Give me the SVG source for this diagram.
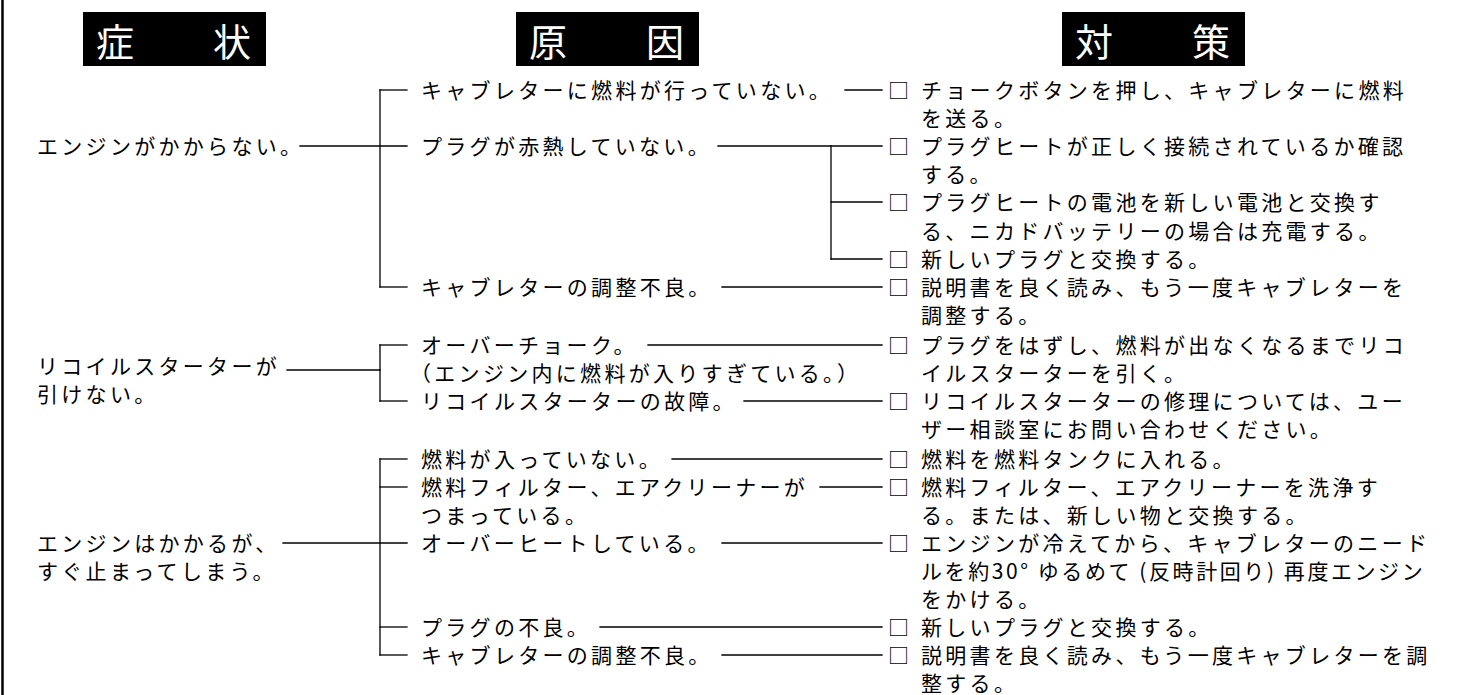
<svg xmlns="http://www.w3.org/2000/svg" width="1481" height="695" viewBox="0 0 1481 695">
<style>
.t{font-family:"Noto Sans CJK JP","Noto Sans",sans-serif;font-size:21px;letter-spacing:3.3px;fill:#000}
.h{font-family:"Noto Sans CJK JP","Noto Sans",sans-serif;font-size:38px;fill:#fff}
.hb{fill:#000}
.c line{stroke:#000;stroke-width:1.3;stroke-linecap:square;fill:none}
</style>
<rect width="1481" height="695" fill="#fff"/>
<line x1="2.5" y1="0" x2="2.5" y2="695" stroke="#000" stroke-width="2.5"/>

<g id="header-symptom"><rect class="hb" x="83" y="12" width="183" height="54"/><text class="h" x="96" y="56">症</text><text class="h" x="213" y="56">状</text></g>
<g id="header-cause"><rect class="hb" x="516" y="12" width="183" height="54"/><text class="h" x="529" y="56">原</text><text class="h" x="646" y="56">因</text></g>
<g id="header-remedy"><rect class="hb" x="1062" y="12" width="183" height="54"/><text class="h" x="1075" y="56">対</text><text class="h" x="1192" y="56">策</text></g>

<g class="c" id="connectors">
<line x1="300" y1="146" x2="407" y2="146"/>
<line x1="380" y1="90" x2="380" y2="287"/>
<line x1="380" y1="90" x2="407" y2="90"/>
<line x1="380" y1="287" x2="407" y2="287"/>
<line x1="845" y1="90" x2="882" y2="90"/>
<line x1="718" y1="146" x2="882" y2="146"/>
<line x1="831" y1="146" x2="831" y2="259"/>
<line x1="831" y1="202" x2="882" y2="202"/>
<line x1="831" y1="259" x2="882" y2="259"/>
<line x1="722" y1="287" x2="882" y2="287"/>

<line x1="287" y1="370" x2="380" y2="370"/>
<line x1="380" y1="345" x2="380" y2="401"/>
<line x1="380" y1="345" x2="407" y2="345"/>
<line x1="380" y1="401" x2="407" y2="401"/>
<line x1="648" y1="345" x2="882" y2="345"/>
<line x1="744" y1="401" x2="882" y2="401"/>

<line x1="283" y1="543" x2="407" y2="543"/>
<line x1="380" y1="459" x2="380" y2="655"/>
<line x1="380" y1="459" x2="407" y2="459"/>
<line x1="380" y1="487" x2="407" y2="487"/>
<line x1="380" y1="627" x2="407" y2="627"/>
<line x1="380" y1="655" x2="407" y2="655"/>
<line x1="672" y1="459" x2="882" y2="459"/>
<line x1="820" y1="487" x2="882" y2="487"/>
<line x1="722" y1="543" x2="882" y2="543"/>
<line x1="600" y1="627" x2="882" y2="627"/>
<line x1="722" y1="655" x2="882" y2="655"/>
</g>

<g id="symptom-1"><text class="t" x="37" y="154">エンジンがかからない。</text></g>
<g id="symptom-2"><text class="t" x="37" y="374">リコイルスターターが</text><text class="t" x="37" y="402">引けない。</text></g>
<g id="symptom-3"><text class="t" x="37" y="551">エンジンはかかるが、</text><text class="t" x="37" y="579">すぐ止まってしまう。</text></g>

<g id="cause-1-1"><text class="t" x="421" y="98">キャブレターに燃料が行っていない。</text></g>
<g id="cause-1-2"><text class="t" x="421" y="154">プラグが赤熱していない。</text></g>
<g id="cause-1-3"><text class="t" x="421" y="295">キャブレターの調整不良。</text></g>
<g id="cause-2-1"><text class="t" x="421" y="353">オーバーチョーク。</text><text class="t" x="410" y="381">（エンジン内に燃料が入りすぎている。）</text></g>
<g id="cause-2-2"><text class="t" x="421" y="409">リコイルスターターの故障。</text></g>
<g id="cause-3-1"><text class="t" x="421" y="467">燃料が入っていない。</text></g>
<g id="cause-3-2"><text class="t" x="421" y="495">燃料フィルター、エアクリーナーが</text><text class="t" x="421" y="523">つまっている。</text></g>
<g id="cause-3-3"><text class="t" x="421" y="551">オーバーヒートしている。</text></g>
<g id="cause-3-4"><text class="t" x="421" y="635">プラグの不良。</text></g>
<g id="cause-3-5"><text class="t" x="421" y="663">キャブレターの調整不良。</text></g>

<g id="remedy-1"><text class="t" x="888" y="98">□</text><text class="t" x="921" y="98">チョークボタンを押し、キャブレターに燃料</text><text class="t" x="921" y="126">を送る。</text></g>
<g id="remedy-2"><text class="t" x="888" y="154">□</text><text class="t" x="921" y="154">プラグヒートが正しく接続されているか確認</text><text class="t" x="921" y="182">する。</text></g>
<g id="remedy-3"><text class="t" x="888" y="210">□</text><text class="t" x="921" y="210">プラグヒートの電池を新しい電池と交換す</text><text class="t" x="921" y="239">る、ニカドバッテリーの場合は充電する。</text></g>
<g id="remedy-4"><text class="t" x="888" y="267">□</text><text class="t" x="921" y="267">新しいプラグと交換する。</text></g>
<g id="remedy-5"><text class="t" x="888" y="295">□</text><text class="t" x="921" y="295">説明書を良く読み、もう一度キャブレターを</text><text class="t" x="921" y="323">調整する。</text></g>
<g id="remedy-6"><text class="t" x="888" y="353">□</text><text class="t" x="921" y="353">プラグをはずし、燃料が出なくなるまでリコ</text><text class="t" x="921" y="381">イルスターターを引く。</text></g>
<g id="remedy-7"><text class="t" x="888" y="409">□</text><text class="t" x="921" y="409">リコイルスターターの修理については、ユー</text><text class="t" x="921" y="437">ザー相談室にお問い合わせください。</text></g>
<g id="remedy-8"><text class="t" x="888" y="467">□</text><text class="t" x="921" y="467">燃料を燃料タンクに入れる。</text></g>
<g id="remedy-9"><text class="t" x="888" y="495">□</text><text class="t" x="921" y="495">燃料フィルター、エアクリーナーを洗浄す</text><text class="t" x="921" y="523">る。または、新しい物と交換する。</text></g>
<g id="remedy-10"><text class="t" x="888" y="551">□</text><text class="t" x="921" y="551">エンジンが冷えてから、キャブレターのニード</text><text class="t" x="921" y="579" textLength="505" lengthAdjust="spacing">ルを約30° ゆるめて (反時計回り) 再度エンジン</text><text class="t" x="921" y="607">をかける。</text></g>
<g id="remedy-11"><text class="t" x="888" y="635">□</text><text class="t" x="921" y="635">新しいプラグと交換する。</text></g>
<g id="remedy-12"><text class="t" x="888" y="663">□</text><text class="t" x="921" y="663">説明書を良く読み、もう一度キャブレターを調</text><text class="t" x="921" y="691">整する。</text></g>
</svg>
